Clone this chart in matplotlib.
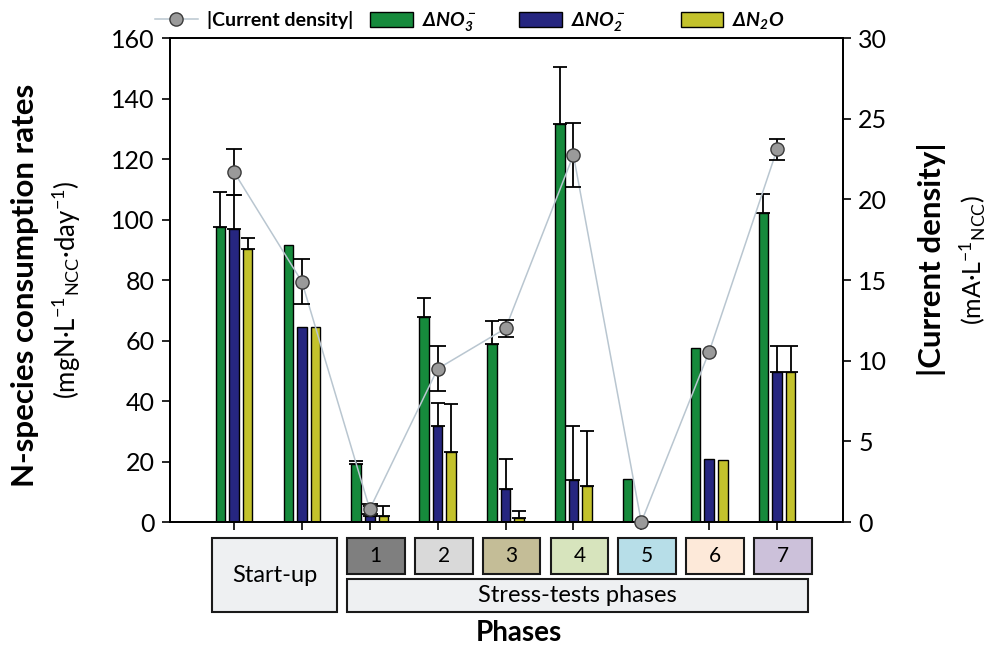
import numpy as np
import matplotlib
matplotlib.use("Agg")
import matplotlib.pyplot as plt
from matplotlib.patches import Rectangle, Patch
from matplotlib.lines import Line2D
import matplotlib.transforms as mtrans

plt.rcParams['font.family'] = ['Lato', 'DejaVu Sans']
plt.rcParams['mathtext.default'] = 'regular'

# data
groups = ["Start-up", "Start-up", "1", "2", "3", "4", "5", "6", "7"]
no3 = [97.5, 91.5, 19.2, 67.8, 58.8, 131.5, 14.4, 57.7, 102.0]
no3_err = [11.7, 0, 1.0, 6.3, 7.7, 18.8, 0, 0, 6.5]
no2 = [97.0, 64.5, 2.0, 31.8, 11.0, 13.8, 0.0, 20.8, 49.6]
no2_err = [11.1, 0, 3.3, 7.7, 9.8, 18.1, 0, 0, 8.5]
n2o = [90.2, 64.5, 2.0, 23.2, 1.4, 11.9, 0.0, 20.5, 49.6]
n2o_err = [3.7, 0, 3.3, 15.7, 2.2, 18.2, 0, 0, 8.5]
current = [21.7, 14.9, 0.8, 9.5, 12.0, 22.75, 0.0, 10.56, 23.1]
current_err = [1.4, 1.4, 0.3, 1.4, 0.5, 2.0, 0, 0, 0.65]

phase_labels = ["1", "2", "3", "4", "5", "6", "7"]
phase_colors = ["#7f7f7f", "#d9d9d9", "#c4bd97", "#d7e4bd", "#b7dee8", "#fde9d9", "#ccc1da"]

c_no3 = "#168a3c"
c_no2 = "#262680"
c_n2o = "#c3c22c"
c_line = "#b9c6d0"

x = np.arange(len(groups))
w = 0.14
off = 0.2

fig = plt.figure(figsize=(9.94, 6.51), dpi=100)
ax = fig.add_axes([0.171, 0.198, 0.677, 0.7436])
ax2 = ax.twinx()

ekw = dict(elinewidth=1.3, capthick=1.3, ecolor="black")
for xs, vals, errs, col in [(x - off, no3, no3_err, c_no3),
                            (x, no2, no2_err, c_no2),
                            (x + off, n2o, n2o_err, c_n2o)]:
    errs = np.array(errs)
    yerr = np.vstack([np.zeros_like(errs), errs])
    mask = errs > 0
    ax.errorbar(xs[mask], np.array(vals)[mask], yerr=yerr[:, mask], fmt="none",
                capsize=5, zorder=1, **ekw)
    ax.bar(xs, vals, width=w, color=col, edgecolor="black", linewidth=1, zorder=2)

cerr = np.array(current_err)
ax2.plot(x, current, color=c_line, lw=1.1, zorder=1)
m = cerr > 0
ax2.errorbar(x[m], np.array(current)[m], yerr=cerr[m], fmt="none", capsize=5.5, zorder=2, **ekw)
ax2.plot(x, current, "o", ms=9.5, mfc="#9a9a9a", mec="#3a3a3a", mew=1, zorder=3, clip_on=False)

ax.set_xlim(-0.943, 8.97)
ax.set_ylim(0, 160)
ax.set_yticks(np.arange(0, 161, 20))
ax2.set_ylim(0, 30)
ax2.set_yticks(np.arange(0, 31, 5))
ax.set_xticks(x)
ax.set_xticklabels([])

for a in (ax, ax2):
    a.tick_params(axis="both", direction="out", length=6, width=1.2, labelsize=18, pad=5)
    for s in a.spines.values():
        s.set_linewidth(1.3)

# axis titles
fig.text(0.025, 0.561, "N-species consumption rates", rotation=90, fontsize=22.5,
         fontweight="bold", ha="center", va="center")
fig.text(0.067, 0.555, "(mgN·L$^{-1}$$_{NCC}$·day$^{-1}$)", rotation=90, fontsize=18.5,
         ha="center", va="center")
fig.text(0.937, 0.602, "|Current density|", rotation=90, fontsize=22.5,
         fontweight="bold", ha="center", va="center")
fig.text(0.979, 0.60, "(mA·L$^{-1}$$_{NCC}$)", rotation=90, fontsize=18,
         ha="center", va="center")
fig.text(0.5225, 0.028, "Phases", fontsize=20, fontweight="bold", ha="center", va="center")

# phase boxes under the axis
tr = mtrans.blended_transform_factory(ax.transData, ax.transAxes)
box_kw = dict(transform=tr, clip_on=False, edgecolor="#1a1a1a", linewidth=1.5)
y_top = -0.033
y_mid = -0.1074
y_s = -0.1178
y_bot = -0.186

ax.add_patch(Rectangle((-0.324, y_bot), 1.841, y_top - y_bot, facecolor="#eef0f2", **box_kw))
ax.text(0.597, (y_top + y_bot) / 2, "Start-up", transform=tr, ha="center", va="center", fontsize=17)
for i, (lab, col) in enumerate(zip(phase_labels, phase_colors)):
    gx = x[i + 2]
    ax.add_patch(Rectangle((gx - 0.336, y_mid), 0.85, y_top - y_mid, facecolor=col, **box_kw))
    ax.text(gx - 0.336 + 0.425, (y_top + y_mid) / 2, lab, transform=tr, ha="center",
            va="center", fontsize=15)
ax.add_patch(Rectangle((1.664, y_bot), 8.45 - 1.664, y_s - y_bot, facecolor="#eef0f2", **box_kw))
ax.text((1.664 + 8.45) / 2, (y_s + y_bot) / 2, "Stress-tests phases", transform=tr,
        ha="center", va="center", fontsize=17)

# legend (trailing spaces widen the gaps the way the original spaces them)
handles = [Line2D([], [], color=c_line, lw=1.1, marker="o", ms=9.5, mfc="#9a9a9a", mec="#3a3a3a"),
           Patch(facecolor=c_no3, edgecolor="black"),
           Patch(facecolor=c_no2, edgecolor="black"),
           Patch(facecolor=c_n2o, edgecolor="black")]
labels = ["|Current density|", "ΔNO$_3^-$      ", "ΔNO$_2^-$         ", "ΔN$_2$O"]
leg = fig.legend(handles, labels, loc="center left", bbox_to_anchor=(0.156, 0.967), ncol=4,
                 frameon=False, handlelength=2.2, handleheight=0.78, handletextpad=0.45,
                 columnspacing=0.9, borderaxespad=0, borderpad=0,
                 prop=dict(size=14, weight="bold", style="italic"))
leg.get_texts()[0].set_fontstyle("normal")

fig.savefig("out.png", dpi=100)
